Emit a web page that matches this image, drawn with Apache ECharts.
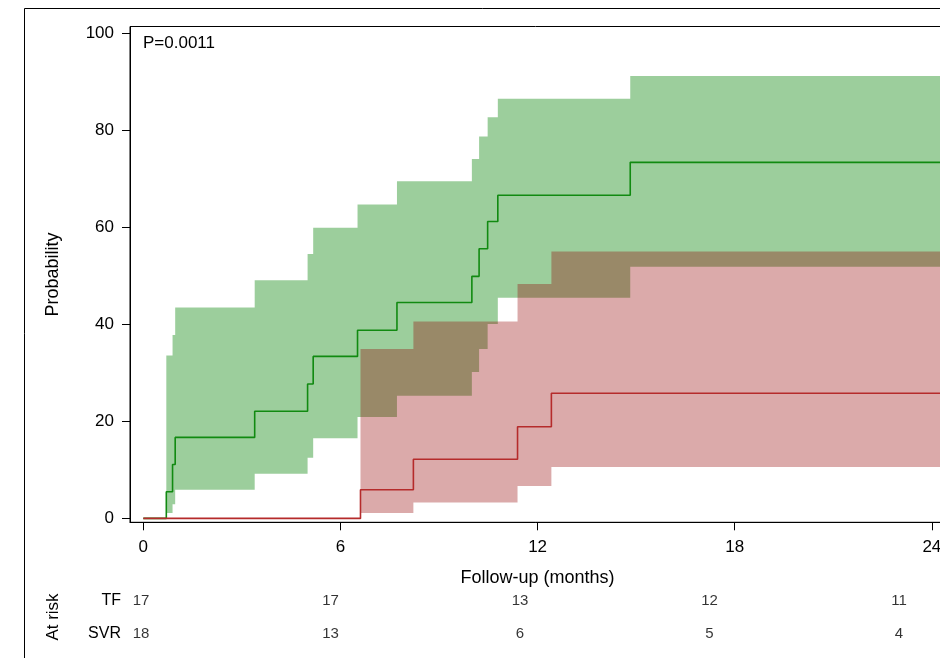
<!DOCTYPE html>
<html><head><meta charset="utf-8">
<script src="https://cdn.jsdelivr.net/npm/echarts@6/dist/echarts.min.js"></script>
<style>html,body{margin:0;padding:0;background:#fff;}#main{width:940px;height:658px;}</style>
</head><body><div id="main"></div>
<script>
// ---- data ----
const xTicks = [0, 6, 12, 18, 24];
const yTicks = [0, 20, 40, 60, 80, 100];
const followEnd = 24.4;

const tfTime  = [0, 0.70, 0.89, 0.97, 3.39, 5.00, 5.17, 6.52, 7.72, 10.00, 10.22, 10.48, 10.79, 14.82];
const tfEst   = [0, 5.5, 11.1, 16.7, 22.1, 27.7, 33.4, 38.8, 44.5, 49.9, 55.6, 61.2, 66.6, 73.4];
const tfLower = [0, 1.1, 2.9, 5.9, 9.2, 12.5, 16.5, 20.9, 25.3, 30.2, 34.9, 40.1, 45.5, 51.9];
const tfUpper = [0, 33.6, 37.8, 43.5, 49.1, 54.5, 59.9, 64.7, 69.5, 74.1, 78.7, 82.7, 86.5, 91.2];

const svrTime  = [0, 6.61, 8.22, 11.39, 12.42];
const svrEst   = [0, 5.9, 12.2, 18.9, 25.8];
const svrLower = [0, 1.1, 3.3, 6.7, 10.6];
const svrUpper = [0, 34.9, 40.6, 48.3, 55.0];

const riskTimes  = [0, 6, 12, 18, 24];
const riskGroups = ['TF', 'SVR'];
const riskTF  = [17, 17, 13, 12, 11];
const riskSVR = [18, 13, 6, 5, 4];
const pValueText = 'P=0.0011';

// ---- build chart ----
const FONT = '"Liberation Sans", Arial, sans-serif';
const chart = echarts.init(document.getElementById('main'), null, {renderer: 'canvas'});

function stepPoints(times, vals) {
  const d = times.map((t, i) => [t, vals[i]]);
  d.push([followEnd, vals[vals.length - 1]]);
  return d;
}

function bandSeries(name, times, lower, upper, fill, z) {
  return {
    name: name, type: 'custom', xAxisIndex: 0, yAxisIndex: 0, silent: true, z: z,
    clip: true,
    data: times.map((t, i) => [t, lower[i], upper[i]]),
    encode: {x: 0, y: [1, 2]},
    renderItem: function (params, api) {
      if (params.dataIndex !== 0) return null;
      const up = [], lo = [];
      for (let i = 0; i < times.length; i++) {
        if (upper[i] === lower[i]) continue;
        const t0 = times[i];
        const t1 = i + 1 < times.length ? times[i + 1] : followEnd;
        up.push(api.coord([t0, upper[i]]), api.coord([t1, upper[i]]));
        lo.push(api.coord([t0, lower[i]]), api.coord([t1, lower[i]]));
      }
      const pts = up.concat(lo.reverse());
      return {type: 'polygon', shape: {points: pts}, style: {fill: fill}};
    }
  };
}

function lineSeries(name, times, vals, color, z) {
  return {
    name: name, type: 'line', step: 'end', xAxisIndex: 0, yAxisIndex: 0,
    data: stepPoints(times, vals), symbol: 'none', z: z, silent: true,
    lineStyle: {color: color, width: 1.6}
  };
}

function riskSeries(group, counts) {
  return {
    type: 'scatter', xAxisIndex: 1, yAxisIndex: 1, symbolSize: 1, silent: true,
    itemStyle: {color: 'rgba(0,0,0,0)'},
    data: riskTimes.map((t, i) => [t, group, counts[i]]),
    label: {show: true, position: 'inside', formatter: p => String(p.value[2]),
            color: '#000', fontSize: 15, fontFamily: FONT}
  };
}

const option = {
  animation: false,
  backgroundColor: '#fff',
  grid: [
    {left: 130, top: 26.5, width: 815, height: 495.8, show: true,
     outerBoundsMode: 'none', containLabel: false,
     borderColor: '#000', borderWidth: 1, backgroundColor: 'transparent'},
    {left: 141, top: 584, width: 758, height: 66, outerBoundsMode: 'none', containLabel: false}
  ],
  xAxis: [
    {type: 'value', gridIndex: 0, min: -0.405, max: followEnd,
     name: 'Follow-up (months)', nameLocation: 'middle', nameGap: 47,
     nameTextStyle: {fontSize: 18, color: '#000', fontFamily: FONT},
     axisLine: {show: true, onZero: false, lineStyle: {color: '#000', width: 1}},
     axisTick: {show: true, inside: false, length: 8, customValues: xTicks,
                lineStyle: {color: '#000', width: 1}},
     axisLabel: {show: true, customValues: xTicks, fontSize: 17, color: '#000',
                 margin: 17, fontFamily: FONT},
     splitLine: {show: false}},
    {type: 'value', gridIndex: 1, min: 0, max: 24, show: false}
  ],
  yAxis: [
    {type: 'value', gridIndex: 0, min: -0.8, max: 101.4,
     name: 'Probability', nameLocation: 'middle', nameGap: 68,
     nameTextStyle: {fontSize: 18, color: '#000', fontFamily: FONT},
     axisLine: {show: true, onZero: false, lineStyle: {color: '#000', width: 1}},
     axisTick: {show: true, inside: false, length: 8, customValues: yTicks,
                lineStyle: {color: '#000', width: 1}},
     axisLabel: {show: true, customValues: yTicks, fontSize: 17, color: '#000',
                 margin: 16, fontFamily: FONT},
     splitLine: {show: false}},
    {type: 'category', gridIndex: 1, data: riskGroups, inverse: true,
     name: 'At risk', nameLocation: 'middle', nameGap: 79,
     nameTextStyle: {fontSize: 17, color: '#000', fontFamily: FONT},
     axisLine: {show: false}, axisTick: {show: false}, splitLine: {show: false},
     axisLabel: {fontSize: 16, color: '#000', margin: 20, fontFamily: FONT}}
  ],
  graphic: [
    {type: 'rect', silent: true, z: 100,
     shape: {x: 24.5, y: 8.5, width: 1000, height: 700},
     style: {fill: 'none', stroke: '#000', lineWidth: 1}},
    {type: 'text', silent: true, z: 100, left: 143, top: 35,
     style: {text: pValueText, fontSize: 17, fill: '#000', fontFamily: FONT}}
  ],
  series: [
    bandSeries('TF band', tfTime, tfLower, tfUpper, 'rgba(0,128,0,0.39)', 1),
    bandSeries('SVR band', svrTime, svrLower, svrUpper, 'rgba(148,0,0,0.335)', 2),
    lineSeries('TF', tfTime, tfEst, '#118a11', 3),
    lineSeries('SVR', svrTime, svrEst, '#b52b2b', 4),
    riskSeries('TF', riskTF),
    riskSeries('SVR', riskSVR)
  ]
};
chart.setOption(option);
</script>
</body></html>
